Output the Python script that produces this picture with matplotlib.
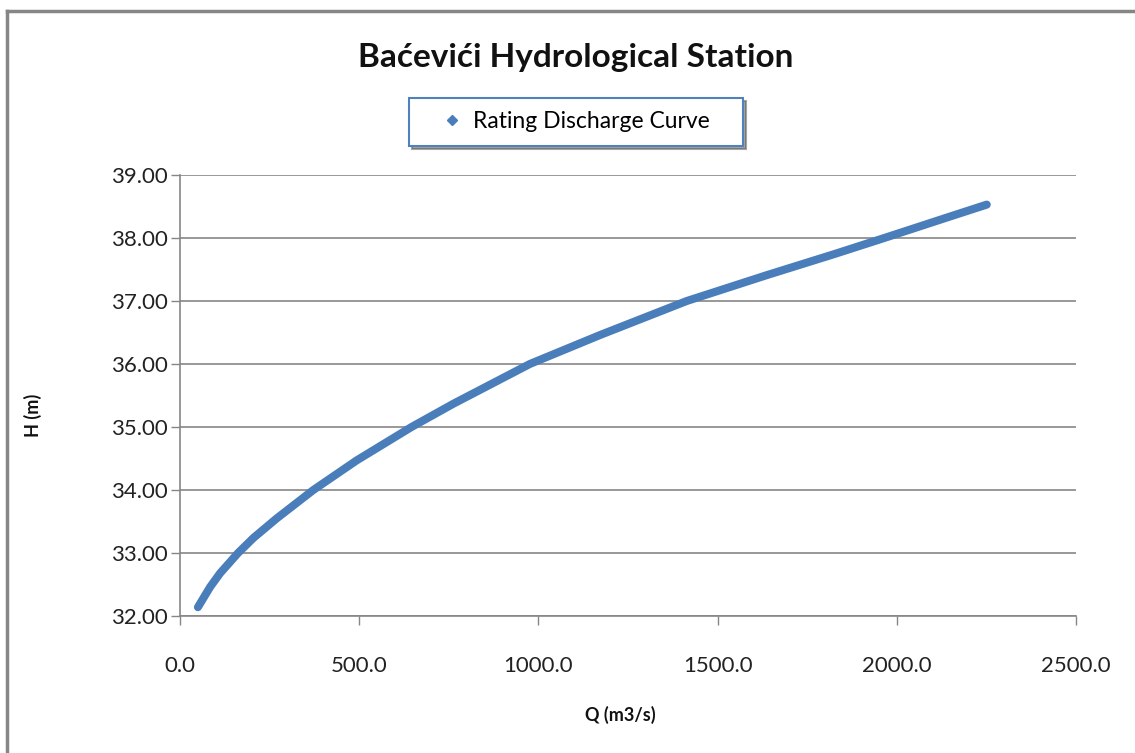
import matplotlib
matplotlib.use("Agg")
import matplotlib.pyplot as plt
from matplotlib.lines import Line2D

# Data
discharge_q = [50, 84, 112, 162, 205, 270, 372, 493, 646, 763, 976,
               1172, 1414, 1637, 1823, 1965, 2148, 2251]
stage_h = [32.14, 32.46, 32.68, 33.00, 33.24, 33.55, 34.00, 34.47, 35.00,
           35.37, 36.00, 36.46, 37.00, 37.41, 37.74, 38.00, 38.34, 38.53]
x_ticks = [0, 500, 1000, 1500, 2000, 2500]
y_ticks = [32, 33, 34, 35, 36, 37, 38, 39]
title = "Baćevići Hydrological Station"
series_name = "Rating Discharge Curve"

W, H = 1135, 753
fig = plt.figure(figsize=(W / 100, H / 100), dpi=100)
plt.rcParams['font.family'] = ['Lato', 'DejaVu Sans']

grey = "#868686"
blue = "#4A7EBB"

# outer chart frame (partially cropped)
fig.add_artist(Line2D([7 / W, 7 / W], [0, 1 - 11 / H], transform=fig.transFigure,
                      color=grey, lw=2.5))
fig.add_artist(Line2D([7 / W, 1], [1 - 11 / H, 1 - 11 / H], transform=fig.transFigure,
                      color=grey, lw=2.5))

ax = fig.add_axes([180 / W, 1 - 616 / H, 896 / W, 441 / H])
ax.plot(discharge_q, stage_h, color=blue, lw=5.8, solid_capstyle='round',
        solid_joinstyle='round')
ax.set_xlim(0, 2500)
ax.set_ylim(32, 39)
ax.set_xticks(x_ticks)
ax.set_yticks(y_ticks)
ax.set_xticklabels([f"{v:.1f}" for v in x_ticks])
ax.set_yticklabels([f"{v:.2f}" for v in y_ticks])
ax.tick_params(axis='both', direction='out', length=6.5, width=1, color=grey,
               labelsize=16, labelcolor='#222222')
ax.tick_params(axis='x', pad=22)
ax.tick_params(axis='y', pad=2)
ax.grid(axis='y', color=grey, lw=1.2)
ax.set_axisbelow(True)
for s in ['top', 'right']:
    ax.spines[s].set_visible(False)
for s in ['left', 'bottom']:
    ax.spines[s].set_color(grey)
    ax.spines[s].set_linewidth(1.2)

fig.text(576 / W, 1 - 57 / H, title, ha='center', va='center',
         fontsize=24, fontweight='bold', color='#111111')
fig.text(33 / W, 1 - 415 / H, "H (m)", ha='center', va='center', rotation=90,
         fontsize=13, fontweight='bold', color='#111111')
fig.text(620 / W, 1 - 715 / H, "Q (m3/s)", ha='center', va='center',
         fontsize=13, fontweight='bold', color='#111111')

handle = Line2D([], [], color=blue, marker='D', markersize=5, linestyle='none')
leg = fig.legend([handle], [series_name], loc='center',
                 bbox_to_anchor=(576 / W, 1 - 122 / H), fontsize=16.5,
                 frameon=True, fancybox=False, shadow=True,
                 handlelength=0.8, handletextpad=0.5, borderpad=0.6,
                 borderaxespad=0)
leg.get_frame().set_edgecolor("#4F81BD")
leg.get_frame().set_linewidth(1.5)
fig.canvas.draw()
leg._legend_box.set_width(306)

fig.savefig("out.png", dpi=100, facecolor='white')
